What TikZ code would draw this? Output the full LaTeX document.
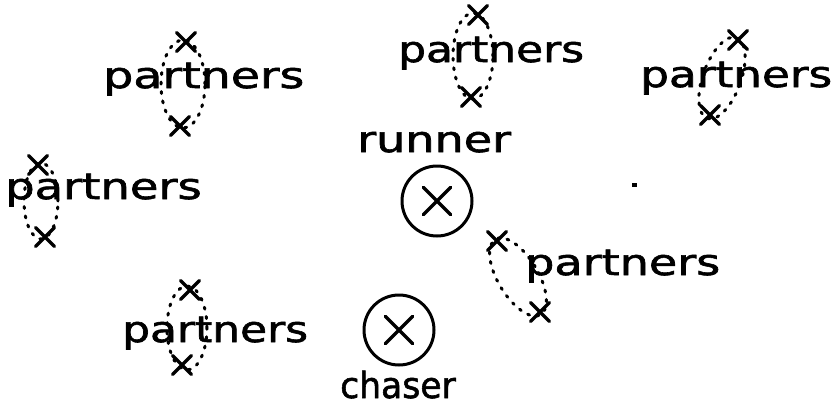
\documentclass[tikz,border=0pt]{standalone}
\usepackage{fontspec}
\setmainfont{DejaVu Sans}[FakeBold=1.6]
\usetikzlibrary{shapes.misc}
\newcommand\hw[2]{\scalebox{#1}[1]{#2}}
\tikzset{
  lbl/.style={anchor=base west, inner sep=0pt, font=\fontsize{36pt}{40pt}\selectfont},
  xmark/.style={cross out, draw, line width=3.2pt, minimum size=16pt, inner sep=0pt, line cap=round},
  bigx/.style={cross out, draw, line width=3.4pt, minimum size=24pt, inner sep=0pt, line cap=round},
  ring/.style={circle, draw, line width=3pt, inner sep=0pt},
  dots/.style={line width=3pt, line cap=round, dash pattern=on 2pt off 7.5pt},
}
\begin{document}
\begin{tikzpicture}[x=1pt,y=-1pt]
\useasboundingbox (0,0) rectangle (839,408);
% group 1
\node[lbl] (t1) at (103,88) {\hw{1.32}{partners}};
\node[xmark] (a1) at (186,42) {};
\node[xmark] (b1) at (180,126) {};
\draw[dots] (183,84) ellipse [x radius=22pt, y radius=44pt];
% group 2
\node[lbl] (t2) at (398,62) {\hw{1.22}{partners}};
\node[xmark] (a2) at (478,15) {};
\node[xmark] (b2) at (471,97) {};
\draw[dots] (473,56) ellipse [x radius=20pt, y radius=43pt];
% group 3
\node[lbl] (t3) at (640,87) {\hw{1.26}{partners}};
\node[xmark] (a3) at (738,40) {};
\node[xmark] (b3) at (710,115) {};
\draw[dots] (722,78) ellipse [x radius=19pt, y radius=43pt, rotate=-20];
% group 4
\node[lbl] (t4) at (5,199) {\hw{1.29}{partners}};
\node[xmark] (a4) at (38,165) {};
\node[xmark] (b4) at (45,237) {};
\draw[dots] (41,201) ellipse [x radius=17pt, y radius=38pt];
% runner
\node[lbl] (tr) at (357,152) {\hw{1.28}{runner}};
\node[ring, minimum size=70pt] (runner) at (437,201) {};
\node[bigx] (rx) at (runner.center) {};
% group 5
\node[lbl] (t5) at (525,275) {\hw{1.28}{partners}};
\node[xmark] (a5) at (497,241) {};
\node[xmark] (b5) at (540,312) {};
\draw[dots] (518,277) ellipse [x radius=20pt, y radius=44pt, rotate=31];
% group 6
\node[lbl] (t6) at (122,342) {\hw{1.22}{partners}};
\node[xmark] (a6) at (190,290) {};
\node[xmark] (b6) at (182,365) {};
\draw[dots] (187,328) ellipse [x radius=20pt, y radius=42pt];
% chaser
\node[ring, minimum size=70pt] (chaser) at (399,330) {};
\node[bigx] (cx) at (chaser.center) {};
\node[lbl] (tc) at (340,398) {\hw{0.96}{chaser}};
% stray dot
\node[fill, minimum width=5pt, minimum height=4pt, inner sep=0pt] (dot) at (634,185) {};
\end{tikzpicture}
\end{document}
